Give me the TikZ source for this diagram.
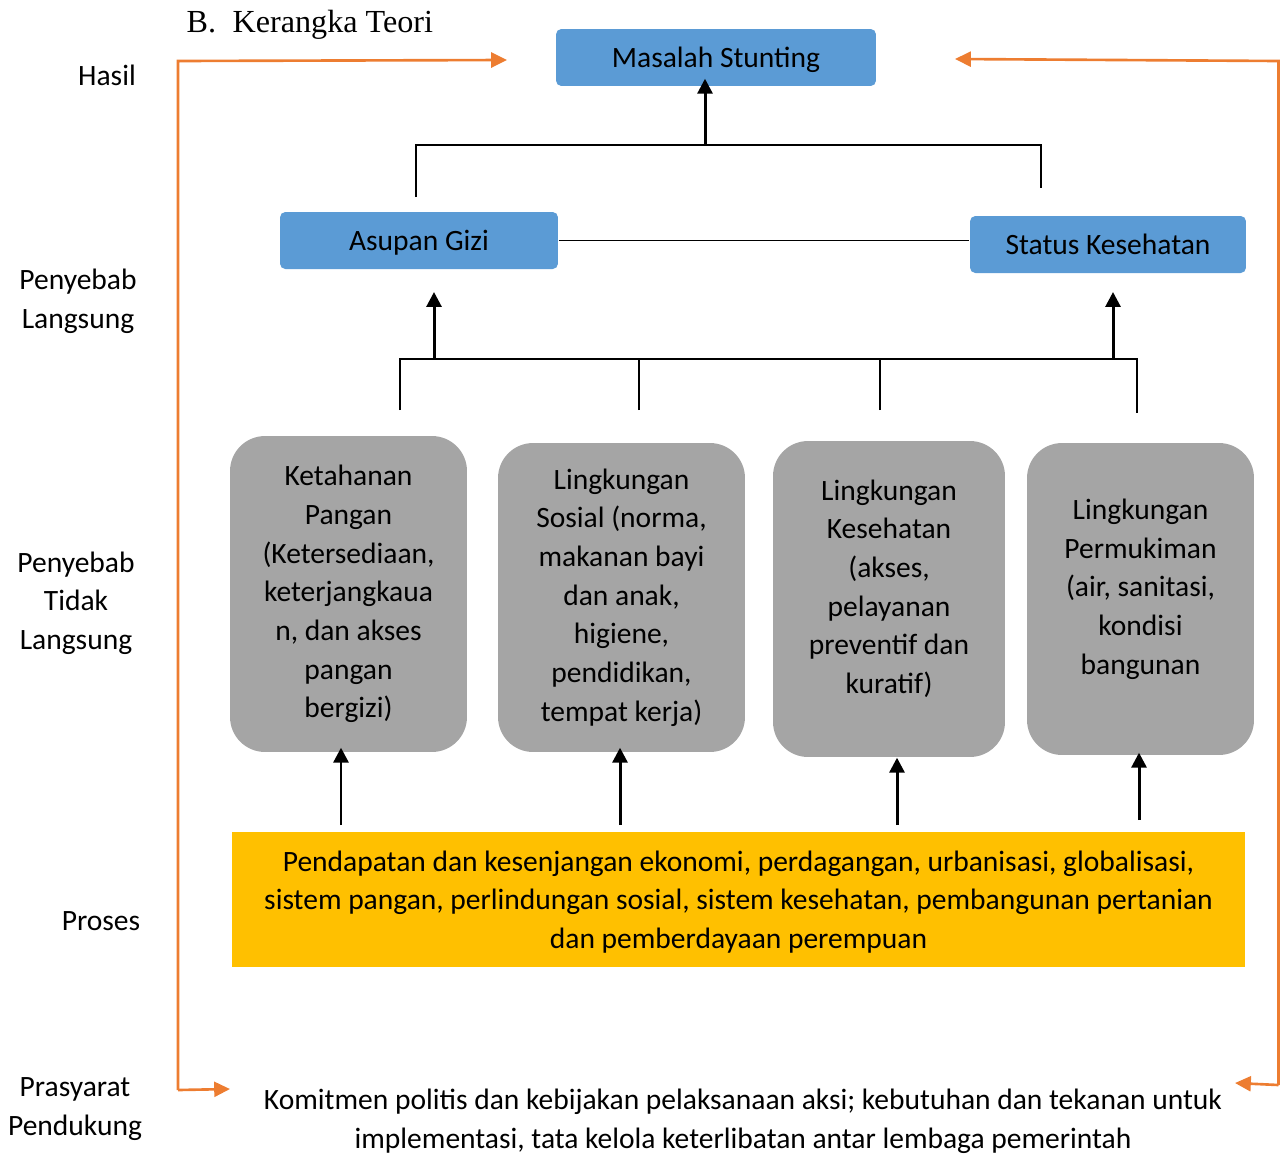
\documentclass[tikz,border=0pt]{standalone}
\usepackage{fontspec}
\setmainfont{Carlito}
\newfontfamily\timesfont{Liberation Serif}
\usetikzlibrary{arrows.meta}
\definecolor{boxblue}{HTML}{5B9BD5}
\definecolor{boxgray}{HTML}{A5A5A5}
\definecolor{boxgold}{HTML}{FFC000}
\definecolor{linkorange}{HTML}{ED7D31}

\begin{document}
\begin{tikzpicture}[x=0.02cm,y=-0.02cm,font=\fontsize{16.8}{22}\selectfont,line width=0.8pt]
	\tikzstyle{every node}=[inner sep=0pt,text=black,align=center]
	\tikzstyle{level} =[]
	\tikzstyle{main} =[rectangle,fill=boxblue,rounded corners=3pt,minimum height=1.14cm,text depth=0pt]
	\tikzstyle{factor} =[rectangle,fill=boxgray,rounded corners=0.7cm]
	\tikzstyle{process} =[rectangle,fill=boxgold,minimum width=20.26cm,minimum height=2.7cm,text depth=0pt]
	\tikzstyle{up} =[line width=1.7pt,-{Triangle[width=8.5pt,length=8.5pt]}]
	\tikzstyle{feed} =[linkorange,line width=1.5pt,-{Triangle[width=8.5pt,length=9pt]}]
	\useasboundingbox (0,0) rectangle (1280,1153);

	\node[anchor=base west,font=\timesfont\fontsize{18.3}{22}\selectfont] (title) at (186,32) {B.\hspace{0.33cm}Kerangka Teori};

	% row labels
	\node[level] (hasil) at (107,75) {Hasil};
	\node[level] (langsung) at (78,301) {Penyebab\\Langsung};
	\node[level] (tidak) at (76,603) {Penyebab\\Tidak\\Langsung};
	\node[level] (proses) at (101,921) {Proses};
	\node[level] (prasyarat) at (75,1109) {Prasyarat\\Pendukung};

	% direct causes and outcome
	\node[main,minimum width=6.4cm] (masalah) at (716,57.5) {Masalah Stunting};
	\node[main,minimum width=5.56cm] (asupan) at (419,240.5) {Asupan Gizi};
	\node[main,minimum width=5.52cm] (status) at (1108,244.5) {Status Kesehatan};

	% indirect causes
	\node[factor,minimum width=4.74cm,minimum height=6.32cm] (pangan) at (348.5,594) {Ketahanan\\Pangan\\(Ketersediaan,\\keterjangkaua\\n, dan akses\\pangan\\bergizi)};
	\node[factor,minimum width=4.94cm,minimum height=6.18cm] (sosial) at (621.5,597.5) {Lingkungan\\Sosial (norma,\\makanan bayi\\dan anak,\\higiene,\\pendidikan,\\tempat kerja)};
	\node[factor,minimum width=4.64cm,minimum height=6.32cm,text depth=14pt] (sehat) at (889,599) {Lingkungan\\Kesehatan\\(akses,\\pelayanan\\preventif dan\\kuratif)};
	\node[factor,minimum width=4.54cm,minimum height=6.24cm,text depth=14pt] (mukim) at (1140.5,599) {Lingkungan\\Permukiman\\(air, sanitasi,\\kondisi\\bangunan};

	\node[process] (ekonomi) at (738.5,899.5) {Pendapatan dan kesenjangan ekonomi, perdagangan, urbanisasi, globalisasi,\\sistem pangan, perlindungan sosial, sistem kesehatan, pembangunan pertanian\\dan pemberdayaan perempuan};

	\node (komitmen) at (743,1121) {Komitmen politis dan kebijakan pelaksanaan aksi; kebutuhan dan tekanan untuk\\implementasi, tata kelola keterlibatan antar lembaga pemerintah};

	% junctions
	\coordinate (topjoin) at (705,145);
	\coordinate (gleft) at (416,197);
	\coordinate (gright) at (1041,188);
	\coordinate (midjoin) at (400,359);
	\coordinate (k1) at (400,410);
	\coordinate (k2) at (639,410);
	\coordinate (k3) at (880,410);
	\coordinate (k4) at (1137,413);
	\coordinate (gizibase) at (434,359);
	\coordinate (gizitip) at (434,292);
	\coordinate (statbase) at (1113,359);
	\coordinate (stattip) at (1113,292);
	\coordinate (p1) at (341,825);
	\coordinate (p2) at (620,825);
	\coordinate (p3) at (897,825);
	\coordinate (p4) at (1139,820);

	\draw[up,shorten >=-0.16cm] (topjoin) -- (topjoin |- masalah.south);
	\draw (gleft) |- (gright |- topjoin) -- (gright);
	\draw (asupan.east) -- (asupan.east -| status.west);

	\draw (k1) |- (k4 |- midjoin) -- (k4);
	\draw (k2) -- (k2 |- midjoin);
	\draw (k3) -- (k3 |- midjoin);
	\draw[up] (gizibase) -- (gizitip);
	\draw[up] (statbase) -- (stattip);

	\draw[up,shorten >=-0.1cm] (p1) -- (p1 |- pangan.south);
	\draw[up,shorten >=-0.1cm] (p2) -- (p2 |- sosial.south);
	\draw[up] (p3) -- (p3 |- sehat.south);
	\draw[up,shorten >=-0.06cm] (p4) -- (p4 |- mukim.south);

	% feedback lines
	\coordinate (olb) at (178,1090);
	\coordinate (olt) at (178,61);
	\coordinate (oltip) at (507,60);
	\coordinate (olbtip) at (230,1089);
	\coordinate (ort) at (1278.5,61);
	\coordinate (orttip) at (955,59);
	\coordinate (orb) at (1278.5,1085);
	\coordinate (orbtip) at (1235,1083);
	\draw[feed] (olb) -- (olt) -- (oltip);
	\draw[feed] (olb) -- (olbtip);
	\draw[feed] (orb) -- (ort) -- (orttip);
	\draw[feed] (orb) -- (orbtip);
\end{tikzpicture}
\end{document}
